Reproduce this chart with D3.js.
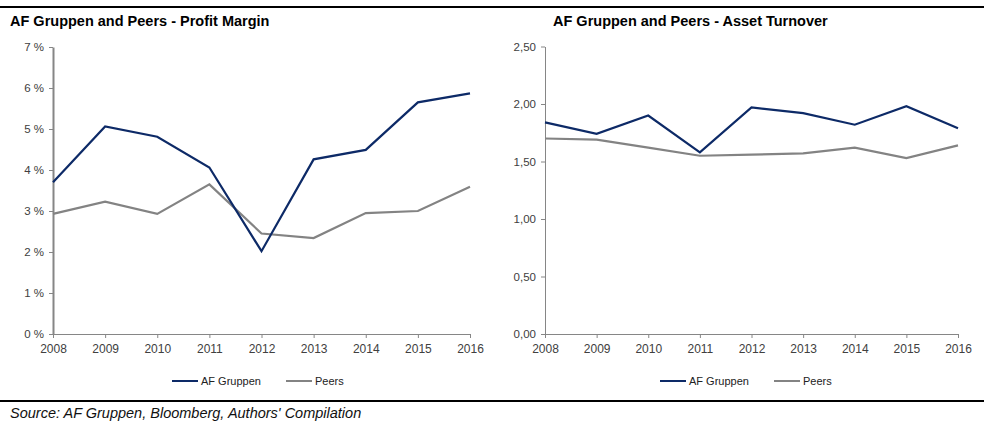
<!DOCTYPE html>
<html lang="en">
<head>
<meta charset="UTF-8">
<title>AF Gruppen and Peers</title>
<style>
  body { margin: 0; background: #fff; }
  svg { font-family: "Liberation Sans", Arial, sans-serif; }
  .tick text { fill: #404040; font-size: 11.5px; }
</style>
</head>
<body>
<div id="wrapper"></div>
<script src="https://d3js.org/d3.v7.min.js"></script>
<script>
// data
const years = [2008, 2009, 2010, 2011, 2012, 2013, 2014, 2015, 2016];
const marginAF = [3.70, 5.06, 4.81, 4.06, 2.02, 4.26, 4.49, 5.65, 5.87];
const marginPeers = [2.93, 3.23, 2.93, 3.65, 2.45, 2.34, 2.95, 3.00, 3.59];
const turnoverAF = [1.84, 1.74, 1.90, 1.58, 1.97, 1.92, 1.82, 1.98, 1.79];
const turnoverPeers = [1.70, 1.69, 1.62, 1.55, 1.56, 1.57, 1.62, 1.53, 1.64];
const marginTicks = [0, 1, 2, 3, 4, 5, 6, 7];
const turnoverTicks = [0, 0.5, 1, 1.5, 2, 2.5];
const seriesNames = ['AF Gruppen', 'Peers'];

const W = 984, H = 423;
const navy = '#0d2a67', grey = '#838383';

const svg = d3.select('#wrapper').append('svg')
  .attr('width', W).attr('height', H);

// top and bottom rules
svg.append('line').attr('x1', 0).attr('x2', W).attr('y1', 7).attr('y2', 7)
  .attr('stroke', '#000').attr('stroke-width', 2);
svg.append('line').attr('x1', 0).attr('x2', W).attr('y1', 401).attr('y2', 401)
  .attr('stroke', '#000').attr('stroke-width', 2);

svg.append('text').attr('x', 10).attr('y', 418)
  .attr('font-size', 14.5).attr('font-style', 'italic').attr('fill', '#111')
  .text("Source: AF Gruppen, Bloomberg, Authors' Compilation");

function drawChart(opt) {
  const g = svg.append('g');

  g.append('text').attr('x', opt.titleX).attr('y', 26)
    .attr('font-size', 14.5).attr('font-weight', 'bold').attr('fill', '#000')
    .text(opt.title);

  const x = d3.scalePoint().domain(years).range([opt.x0, opt.x1]);
  const y = d3.scaleLinear().domain([0, d3.max(opt.ticks)]).range([334, opt.yTop]);

  // y axis
  const yAxis = g.append('g')
    .attr('transform', `translate(${opt.x0},0)`)
    .call(d3.axisLeft(y).tickValues(opt.ticks).tickFormat(opt.fmt)
      .tickSizeInner(4).tickSizeOuter(0).tickPadding(5));
  yAxis.select('.domain').attr('stroke', '#868686').attr('stroke-width', opt.axisW);
  yAxis.selectAll('.tick line').attr('stroke', '#868686');

  // x axis
  const xAxis = g.append('g')
    .attr('transform', 'translate(0,334)')
    .call(d3.axisBottom(x).tickSizeInner(4).tickSizeOuter(0).tickPadding(6));
  xAxis.select('.domain').attr('stroke', '#868686');
  xAxis.selectAll('.tick line').attr('stroke', '#868686');
  xAxis.selectAll('.tick text').attr('fill', '#000').style('font-size', '12px');

  const line = d3.line().x((d, i) => x(years[i])).y(d => y(d));

  g.append('path').datum(opt.peers)
    .attr('d', line).attr('fill', 'none')
    .attr('stroke', grey).attr('stroke-width', 2.2);
  g.append('path').datum(opt.af)
    .attr('d', line).attr('fill', 'none')
    .attr('stroke', navy).attr('stroke-width', 2.2);

  // legend
  const colors = [navy, grey];
  const leg = g.append('g').attr('transform', `translate(${opt.legX},381)`);
  const offsets = [0, 114];
  seriesNames.forEach((name, i) => {
    leg.append('line').attr('x1', offsets[i]).attr('x2', offsets[i] + 26)
      .attr('y1', 0).attr('y2', 0)
      .attr('stroke', colors[i]).attr('stroke-width', 2);
    leg.append('text').attr('x', offsets[i] + 29).attr('y', 4)
      .attr('font-size', 11).attr('fill', '#222').text(name);
  });
}

drawChart({
  title: 'AF Gruppen and Peers - Profit Margin',
  titleX: 10, x0: 53, x1: 470, yTop: 47,
  ticks: marginTicks, fmt: d => d + ' %', axisW: 2,
  af: marginAF, peers: marginPeers, legX: 172
});

drawChart({
  title: 'AF Gruppen and Peers - Asset Turnover',
  titleX: 553, x0: 545, x1: 958, yTop: 46.5,
  ticks: turnoverTicks, fmt: d => d3.format('.2f')(d).replace('.', ','), axisW: 1,
  af: turnoverAF, peers: turnoverPeers, legX: 660
});
</script>
</body>
</html>
